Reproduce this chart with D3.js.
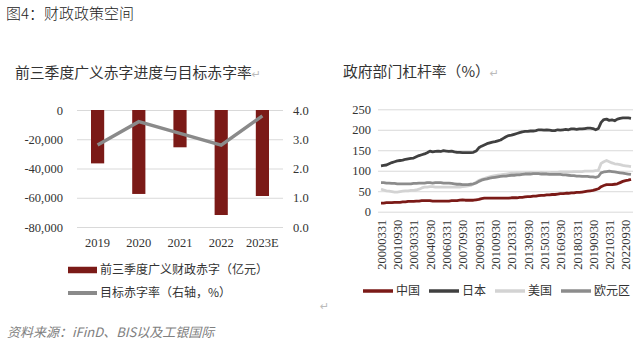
<!DOCTYPE html>
<html><head><meta charset="utf-8">
<script src="https://cdn.jsdelivr.net/npm/d3@7"></script>
<style>
html,body{margin:0;padding:0;background:#fff;}
svg{display:block;}
</style></head>
<body><svg id="c" width="639" height="350"></svg>
<script>
// ---- Left chart data ----
const years = ["2019","2020","2021","2022","2023E"];
const deficit = [-36500, -57400, -25500, -71800, -58800];
const targetRate = [2.8, 3.6, 3.2, 2.8, 3.8];
const leftTicks = [0, -20000, -40000, -60000, -80000];
const rightTicks = [0, 1, 2, 3, 4];

// ---- Right chart data (quarterly, 2000Q1 - 2023Q1) ----
const china = [21,21,22,22, 22,23,23,23, 24,24,25,25, 25,26,26,27, 27,27,27,26, 26,26,26,26,
  26,26,27,27, 27,28,29,28, 28,28,28,29, 30,32,33,33, 33,33,33,33, 33,33,33,33, 34,34,34,35,
  35,36,37,37, 38,38,39,40, 40,41,41,42, 42,43,44,44, 45,45,46,46, 47,47,48,49, 50,51,52,54,
  56,61,64,66, 66,66,67,68, 71,74,76,77, 79];
const japan = [112,113,114,117, 120,122,124,125, 126,128,129,130, 131,134,137,139, 141,144,148,146,
  147,148,147,149, 148,147,148,146, 145,145,144,144, 144,144,145,148, 156,160,163,166,
  168,170,171,173, 175,179,183,186, 187,189,191,193, 195,196,196,197, 197,198,200,200,
  199,200,199,198, 198,200,199,200, 201,200,202,202, 201,202,202,203, 204,204,203,200,
  203,218,225,226, 223,224,222,226, 228,229,229,229, 228];
const usa = [55,53,51,50, 49,48,48,49, 50,51,51,52, 52,53,55,58, 60,60,61,61, 60,60,60,60,
  60,60,60,60, 60,60,61,62, 63,64,68,72, 76,79,81,83, 85,87,88,89, 90,91,92,93, 94,94,95,95,
  95,95,95,96, 95,95,95,96, 95,95,95,96, 96,96,97,97, 97,97,97,98, 98,98,98,99, 99,99,99,100,
  101,118,122,125, 122,119,117,116, 115,113,112,111, 110];
const euro = [71,71,70,70, 69,69,68,68, 68,68,68,68, 69,69,70,70, 70,71,71,70, 71,71,71,70,
  70,70,69,68, 67,67,66,66, 66,67,68,70, 74,77,79,80, 82,83,84,85, 86,87,87,88, 89,89,90,90,
  91,92,92,92, 93,93,93,92, 92,92,91,91, 91,91,91,90, 90,89,88,88, 87,87,86,86, 86,85,85,84,
  86,95,97,98, 99,98,97,96, 95,94,93,92, 91];
const seriesNames = ["中国","日本","美国","欧元区"];
const seriesColors = ["#7b1a17","#404040","#d3d3d3","#8c8c8c"];
const yTicksR = [0,50,100,150,200,250];

// quarter-end labels
const quarterEnds = ["0331","0630","0930","1231"];
const dates = [];
for (let y = 2000; y <= 2023; y++) for (let q = 0; q < 4; q++) {
  if (dates.length < china.length) dates.push(String(y) + quarterEnds[q]);
}
const dateTicks = dates.filter((d,i) => i % 6 === 0);

const svg = d3.select("#c");
const CJK = "'Noto Sans CJK SC','Noto Sans',sans-serif";
const SERIF = "'Liberation Serif','DejaVu Serif',serif";
const loc = d3.formatLocale({decimal:".", thousands:",", grouping:[3], currency:["",""], minus:"-"});

// ---- Titles ----
svg.append("text").attr("x",6).attr("y",14).attr("dy","0.35em")
  .style("font-family",CJK).style("font-size","15px").style("font-weight","300").style("fill","#222")
  .text("图4：财政政策空间");
const t1 = svg.append("text").attr("x",15).attr("y",73).attr("dy","0.35em")
  .style("font-family",CJK).style("font-size","14.8px").style("fill","#333");
t1.append("tspan").text("前三季度广义赤字进度与目标赤字率");
t1.append("tspan").style("fill","#bbb").style("font-family","'DejaVu Sans'").style("font-size","11px").text("↵");
const t2 = svg.append("text").attr("x",343).attr("y",72).attr("dy","0.35em")
  .style("font-family",CJK).style("font-size","14.8px").style("fill","#333");
t2.append("tspan").text("政府部门杠杆率（%）");
t2.append("tspan").style("fill","#bbb").style("font-family","'DejaVu Sans'").style("font-size","11px").text("↵");

// ---- Left chart ----
const L = {x0:77, x1:283, y0:110, y1:227};
const yL = d3.scaleLinear().domain([-80000,0]).range([L.y1,L.y0]);
const yR = d3.scaleLinear().domain([0,4]).range([L.y1,L.y0]);
const xL = d3.scaleBand().domain(years).range([L.x0,L.x1]).paddingInner(0.68).paddingOuter(0.34);

const gLeft = svg.append("g").attr("transform",`translate(${L.x0},0)`)
  .call(d3.axisLeft(yL).tickValues(leftTicks).tickSize(-(L.x1-L.x0)).tickPadding(14).tickFormat(loc.format(",")));
gLeft.select(".domain").remove();
gLeft.selectAll("line").attr("stroke","#d9d9d9");
gLeft.selectAll("text").style("font-family",SERIF).style("font-size","12.5px").style("fill","#333");

const gRight = svg.append("g").attr("transform",`translate(${L.x1},0)`)
  .call(d3.axisRight(yR).tickValues(rightTicks).tickSize(0).tickPadding(10).tickFormat(d3.format(".1f")));
gRight.select(".domain").remove();
gRight.selectAll("text").style("font-family",SERIF).style("font-size","12.5px").style("fill","#333");

const gX = svg.append("g").attr("transform",`translate(0,${L.y1})`)
  .call(d3.axisBottom(xL).tickSize(0).tickPadding(11));
gX.select(".domain").remove();
gX.selectAll("text").style("font-family",SERIF).style("font-size","12.5px").style("fill","#333");

svg.append("g").selectAll("rect").data(deficit).join("rect")
  .attr("x",(d,i)=>xL(years[i])).attr("width",xL.bandwidth())
  .attr("y",yL(0)).attr("height",d=>yL(d)-yL(0))
  .attr("fill","#7b1a17");

svg.append("path").datum(targetRate)
  .attr("d", d3.line().x((d,i)=>xL(years[i])+xL.bandwidth()/2).y(d=>yR(d)))
  .attr("fill","none").attr("stroke","#8a8a8a").attr("stroke-width",3.4);

// left legend
const leg1 = [{label:"前三季度广义财政赤字（亿元）", color:"#7b1a17", h:6.5, y:270},
              {label:"目标赤字率（右轴，%）", color:"#8a8a8a", h:4, y:293}];
leg1.forEach(l=>{
  svg.append("rect").attr("x",68).attr("width",29).attr("y",l.y-l.h/2).attr("height",l.h).attr("fill",l.color);
  svg.append("text").attr("x",100).attr("y",l.y).attr("dy","0.35em")
    .style("font-family",CJK).style("font-size","12px").style("fill","#333").text(l.label);
});
svg.append("text").attr("x",320).attr("y",306).attr("dy","0.35em")
  .style("font-family","'DejaVu Sans'").style("font-size","11px").style("fill","#bbb").text("↵");

// ---- Right chart ----
const R = {x0:378, x1:633, y0:109.3, y1:211.7};
const xR = d3.scalePoint().domain(dates).range([381,631]);
const yRR = d3.scaleLinear().domain([0,250]).range([R.y1,R.y0]);

const gRy = svg.append("g").attr("transform",`translate(${R.x0},0)`)
  .call(d3.axisLeft(yRR).tickValues(yTicksR).tickSize(-(R.x1-R.x0)).tickPadding(7));
gRy.select(".domain").remove();
gRy.selectAll("line").attr("stroke","#d9d9d9");
gRy.selectAll("text").style("font-family",SERIF).style("font-size","12.5px").style("fill","#333");

const gRx = svg.append("g").attr("transform",`translate(0,${R.y1})`)
  .call(d3.axisBottom(xR).tickValues(dateTicks).tickSize(0));
gRx.select(".domain").remove();
gRx.selectAll("text")
  .attr("transform","rotate(-90)")
  .attr("x",-8).attr("y",0).attr("dy","0.35em")
  .style("text-anchor","end")
  .style("font-family",SERIF).style("font-size","12.5px").style("fill","#333");

const allSeries = [china, japan, usa, euro];
const lineGen = d3.line().x((d,i)=>xR(dates[i])).y(d=>yRR(d));
allSeries.forEach((s,k)=>{
  svg.append("path").datum(s).attr("d",lineGen)
    .attr("fill","none").attr("stroke",seriesColors[k]).attr("stroke-width",2.8)
    .attr("stroke-linejoin","round");
});

// right legend
const legX = [363, 429, 495, 561];
seriesNames.forEach((n,k)=>{
  svg.append("line").attr("x1",legX[k]).attr("x2",legX[k]+30).attr("y1",291).attr("y2",291)
    .attr("stroke",seriesColors[k]).attr("stroke-width",3.5);
  svg.append("text").attr("x",legX[k]+33).attr("y",291).attr("dy","0.35em")
    .style("font-family",CJK).style("font-size","12px").style("fill","#333").text(n);
});

// source
svg.append("text").attr("x",7).attr("y",332).attr("dy","0.35em")
  .style("font-family",CJK).style("font-size","13px").style("font-style","italic").style("fill","#808080")
  .text("资料来源：iFinD、BIS以及工银国际");
</script></body></html>
